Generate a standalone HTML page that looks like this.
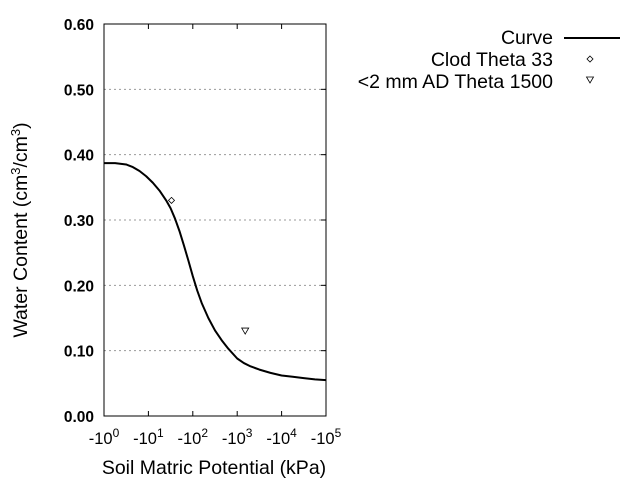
<!DOCTYPE html>
<html><head><meta charset="utf-8"><style>
body{margin:0;background:#fff}
svg{display:block;font-family:"Liberation Sans",sans-serif}
</style></head><body>
<svg width="640" height="480" xmlns="http://www.w3.org/2000/svg">
<g id="grid"></g>
<rect x="104" y="24" width="222" height="392" fill="none" stroke="#000" stroke-width="1"/>
<g id="yticks"></g>
<g id="xticks"></g>
<g id="series"></g>
<text x="214" y="474" text-anchor="middle" font-size="19.5">Soil Matric Potential (kPa)</text>
<text transform="translate(27,230) rotate(-90)" text-anchor="middle" font-size="19.5">Water Content (cm<tspan dy="-7" font-size="13">3</tspan><tspan dy="7">/cm</tspan><tspan dy="-7" font-size="13">3</tspan><tspan dy="7">)</tspan></text>
<g>
<text x="553" y="44" text-anchor="end" font-size="19.5">Curve</text>
<line x1="564" y1="38" x2="620" y2="38" stroke="#000" stroke-width="2"/>
<text x="553" y="66" text-anchor="end" font-size="19.5">Clod Theta 33</text>
<path d="M590,56 L593,59 L590,62 L587,59 Z" fill="none" stroke="#000" stroke-width="0.8"/>
<text x="553" y="88" text-anchor="end" font-size="19.5">&lt;2 mm AD Theta 1500</text>
<path d="M586.5,77 L593.5,77 L590,83 Z" fill="none" stroke="#000" stroke-width="0.8"/>
</g>
</svg>
<script>
const curveLog=[0,0.25,0.5,0.65,0.8,0.95,1.1,1.25,1.4,1.5,1.6,1.7,1.8,1.9,2,2.1,2.2,2.35,2.5,2.65,2.8,3,3.15,3.3,3.5,3.75,4,4.25,4.5,4.75,5];
const curveTheta=[0.387,0.387,0.385,0.381,0.375,0.367,0.357,0.345,0.33,0.318,0.302,0.283,0.261,0.238,0.214,0.192,0.173,0.15,0.131,0.116,0.103,0.088,0.081,0.076,0.071,0.066,0.062,0.06,0.058,0.056,0.055];
const clodLog=[1.52], clodTheta=[0.33];
const adLog=[3.18], adTheta=[0.13];
const yTicks=[0,0.1,0.2,0.3,0.4,0.5,0.6];
const xTicks=[0,1,2,3,4,5];
const NS="http://www.w3.org/2000/svg";
const X=v=>104+v*44.4, Y=v=>416-v*653.33;
function mk(t,a,p){const e=document.createElementNS(NS,t);for(const k in a)e.setAttribute(k,a[k]);p.appendChild(e);return e;}
const grid=document.getElementById('grid'),yt=document.getElementById('yticks'),xt=document.getElementById('xticks'),se=document.getElementById('series');
yTicks.forEach(v=>{
 if(v>0&&v<0.6){const g=mk('line',{x1:104,x2:326,y1:Y(v),y2:Y(v),stroke:'#999','stroke-dasharray':'2,3'},grid);
 
 }
 const t=mk('text',{x:94,y:Y(v)+6,'text-anchor':'end','font-size':'15.5','font-weight':'bold'},yt);
 t.textContent=v.toFixed(2);
 
 
 const l=mk('line',{x1:321,x2:326,y1:Y(v),y2:Y(v),stroke:'#000'},yt);
 
 
});
xTicks.forEach(v=>{
 const l=mk('line',{x1:X(v),x2:X(v),y1:411,y2:416,stroke:'#000'},xt);
 
 
 const l2=mk('line',{x1:X(v),x2:X(v),y1:24,y2:29,stroke:'#000'},xt);
 
 
 const t=mk('text',{x:X(v),y:444,'text-anchor':'middle','font-size':'16.5'},xt);
 t.innerHTML='-10<tspan dy="-7" font-size="12">'+v+'</tspan>';
 
 
});
const pl=mk('polyline',{points:curveLog.map((v,i)=>X(v)+','+Y(curveTheta[i])).join(' '),fill:'none',stroke:'#000','stroke-width':2,'stroke-linejoin':'round'},se);


clodLog.forEach((v,i)=>{const x=X(v),y=Y(clodTheta[i]);
 const p=mk('path',{d:`M${x},${y-3} L${x+3},${y} L${x},${y+3} L${x-3},${y} Z`,fill:'none',stroke:'#000','stroke-width':0.8},se);
 
 });
adLog.forEach((v,i)=>{const x=X(v),y=Y(adTheta[i]);
 const p=mk('path',{d:`M${x-3.5},${y-3} L${x+3.5},${y-3} L${x},${y+3} Z`,fill:'none',stroke:'#000','stroke-width':0.8},se);
 
 });
</script>
</body></html>
